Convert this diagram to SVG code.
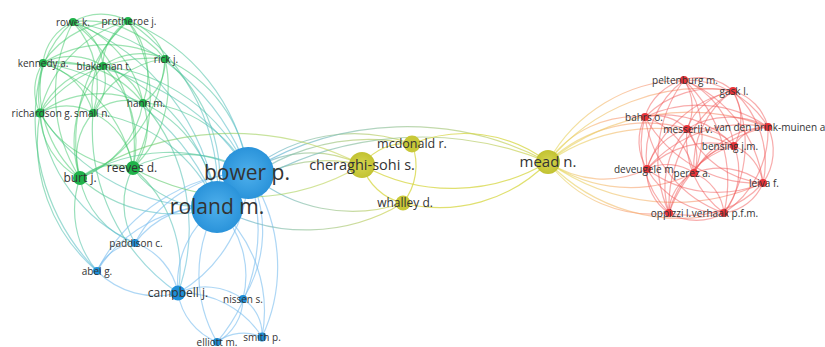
<svg xmlns="http://www.w3.org/2000/svg" width="825" height="347" viewBox="0 0 825 347">
<defs>
<style>
text{font-family:"Open Sans","Liberation Sans",sans-serif;fill:#333;text-anchor:middle}
.s{font-size:10px}.m{font-size:12px}.l{font-size:15px}.xl{font-size:21px}
#edges path{fill:none;stroke-width:1.2}
.g{stroke:#3cc865;stroke-opacity:.5}
.t{stroke:url(#gGB);stroke-opacity:.55}
.b{stroke:#78bdee;stroke-opacity:.6}
.by{stroke:url(#gBY);stroke-opacity:.7}
.gy{stroke:url(#gGY);stroke-opacity:.6}
.y{stroke:#d6d640;stroke-opacity:.75}
.yr{stroke:url(#gYR);stroke-opacity:.6}
.r{stroke:#f25a5a;stroke-opacity:.5}
.ng{fill:#1fb24a}.nb{fill:#1e8fd8}.ny{fill:#c8c838}.nr{fill:#e8343a}
</style>
<linearGradient id="gGB" x1="0" y1="0" x2="1" y2="1"><stop offset="0" stop-color="#3ec86a"/><stop offset="1" stop-color="#5ab8e0"/></linearGradient>
<linearGradient id="gBY" x1="0" y1="0" x2="1" y2="0"><stop offset="0" stop-color="#5fb4e6"/><stop offset="1" stop-color="#d5d64a"/></linearGradient>
<linearGradient id="gGY" x1="0" y1="0" x2="1" y2="0"><stop offset="0" stop-color="#4cc870"/><stop offset="1" stop-color="#d0d450"/></linearGradient>
<linearGradient id="gYR" x1="0" y1="0" x2="1" y2="0"><stop offset="0" stop-color="#e2dc55"/><stop offset=".5" stop-color="#f7b070"/><stop offset="1" stop-color="#f47070"/></linearGradient>
<radialGradient id="bigB" cx=".5" cy=".5" r=".5"><stop offset="0" stop-color="#4fb0ec"/><stop offset="1" stop-color="#2a93da"/></radialGradient>
<radialGradient id="bigY" cx=".5" cy=".5" r=".5"><stop offset="0" stop-color="#d6d650"/><stop offset="1" stop-color="#c2c232"/></radialGradient>
</defs>
<rect width="825" height="347" fill="#fff"/>
<g id="edges">
<path class="g" d="M73 22A55 55 0 0 1 128 21"/>
<path class="g" d="M43 63A51 51 0 0 1 73 22"/>
<path class="g" d="M73 22A53 53 0 0 1 103 66"/>
<path class="g" d="M73 22A99 99 0 0 1 165 59"/>
<path class="g" d="M73 22A107 107 0 0 1 143 103"/>
<path class="g" d="M40 113A97 97 0 0 1 73 22"/>
<path class="g" d="M73 22A93 93 0 0 1 93 113"/>
<path class="g" d="M80 178A156 156 0 0 1 73 22"/>
<path class="g" d="M73 22A158 158 0 0 1 133 168"/>
<path class="g" d="M43 63A95 95 0 0 1 128 21"/>
<path class="g" d="M103 66A52 52 0 0 1 128 21"/>
<path class="g" d="M128 21A54 54 0 0 1 165 59"/>
<path class="g" d="M128 21A83 83 0 0 1 143 103"/>
<path class="g" d="M40 113A125 125 0 0 1 128 21"/>
<path class="g" d="M93 113A98 98 0 0 1 128 21"/>
<path class="g" d="M80 178A164 164 0 0 1 128 21"/>
<path class="g" d="M128 21A147 147 0 0 1 133 168"/>
<path class="g" d="M43 63A60 60 0 0 1 103 66"/>
<path class="g" d="M43 63A122 122 0 0 1 165 59"/>
<path class="g" d="M43 63A108 108 0 0 1 143 103"/>
<path class="g" d="M40 113A50 50 0 0 1 43 63"/>
<path class="g" d="M43 63A71 71 0 0 1 93 113"/>
<path class="g" d="M43 63A119 119 0 0 0 80 178"/>
<path class="g" d="M43 63A140 140 0 0 1 133 168"/>
<path class="g" d="M103 66A62 62 0 0 1 165 59"/>
<path class="g" d="M103 66A55 55 0 0 1 143 103"/>
<path class="g" d="M40 113A82 82 0 0 1 103 66"/>
<path class="g" d="M103 66A48 48 0 0 1 93 113"/>
<path class="g" d="M80 178A114 114 0 0 1 103 66"/>
<path class="g" d="M103 66A106 106 0 0 1 133 168"/>
<path class="g" d="M165 59A50 50 0 0 1 143 103"/>
<path class="g" d="M40 113A138 138 0 0 1 165 59"/>
<path class="g" d="M93 113A89 89 0 0 1 165 59"/>
<path class="g" d="M165 59A142 142 0 0 1 80 178"/>
<path class="g" d="M165 59A114 114 0 0 1 133 168"/>
<path class="g" d="M40 113A103 103 0 0 1 143 103"/>
<path class="g" d="M93 113A51 51 0 0 1 143 103"/>
<path class="g" d="M143 103A98 98 0 0 1 80 178"/>
<path class="g" d="M143 103A66 66 0 0 1 133 168"/>
<path class="g" d="M40 113A53 53 0 0 1 93 113"/>
<path class="g" d="M40 113A75 75 0 0 0 80 178"/>
<path class="g" d="M40 113A108 108 0 0 0 133 168"/>
<path class="g" d="M93 113A66 66 0 0 0 80 178"/>
<path class="g" d="M93 113A70 70 0 0 1 133 168"/>
<path class="g" d="M80 178A54 54 0 0 1 133 168"/>
<path class="t" d="M73 22A230 230 0 0 1 248 172"/>
<path class="t" d="M128 21A193 193 0 0 1 248 172"/>
<path class="t" d="M165 59A140 140 0 0 1 248 172"/>
<path class="t" d="M143 103A126 126 0 0 1 248 172"/>
<path class="t" d="M103 66A180 180 0 0 1 248 172"/>
<path class="t" d="M43 63A232 232 0 0 1 248 172"/>
<path class="t" d="M133 168A115 115 0 0 1 248 172"/>
<path class="t" d="M80 178A168 168 0 0 1 248 172"/>
<path class="t" d="M93 113A156 156 0 0 1 217 207"/>
<path class="t" d="M40 113A200 200 0 0 0 217 207"/>
<path class="t" d="M133 168A93 93 0 0 0 217 207"/>
<path class="t" d="M80 178A140 140 0 0 0 217 207"/>
<path class="t" d="M143 103A128 128 0 0 1 217 207"/>
<path class="t" d="M165 59A157 157 0 0 1 217 207"/>
<path class="t" d="M43 63A226 226 0 0 1 217 207"/>
<path class="t" d="M103 66A181 181 0 0 1 217 207"/>
<path class="t" d="M73 22A234 234 0 0 1 217 207"/>
<path class="t" d="M128 21A206 206 0 0 1 217 207"/>
<path class="t" d="M43 63A215 215 0 0 0 97 271"/>
<path class="t" d="M40 113A168 168 0 0 0 97 271"/>
<path class="t" d="M80 178A95 95 0 0 0 97 271"/>
<path class="t" d="M40 113A161 161 0 0 0 135 243"/>
<path class="t" d="M80 178A85 85 0 0 0 135 243"/>
<path class="t" d="M133 168A75 75 0 0 0 135 243"/>
<path class="t" d="M143 103A193 193 0 0 1 178 293"/>
<path class="t" d="M93 113A199 199 0 0 0 178 293"/>
<path class="t" d="M133 168A133 133 0 0 1 178 293"/>
<path class="b" d="M135 243A133 133 0 0 1 248 172"/>
<path class="b" d="M97 271A180 180 0 0 1 248 172"/>
<path class="b" d="M178 293A140 140 0 0 0 248 172"/>
<path class="b" d="M248 172A127 127 0 0 1 243 299"/>
<path class="b" d="M248 172A173 173 0 0 1 217 342"/>
<path class="b" d="M248 172A166 166 0 0 1 262 337"/>
<path class="b" d="M135 243A90 90 0 0 1 217 207"/>
<path class="b" d="M97 271A136 136 0 0 1 217 207"/>
<path class="b" d="M178 293A94 94 0 0 1 217 207"/>
<path class="b" d="M217 207A96 96 0 0 1 243 299"/>
<path class="b" d="M217 207A135 135 0 0 0 217 342"/>
<path class="b" d="M217 207A138 138 0 0 1 262 337"/>
<path class="b" d="M97 271A47 47 0 0 1 135 243"/>
<path class="b" d="M135 243A66 66 0 0 1 178 293"/>
<path class="b" d="M97 271A84 84 0 0 0 178 293"/>
<path class="b" d="M178 293A65 65 0 0 1 243 299"/>
<path class="b" d="M178 293A63 63 0 0 0 217 342"/>
<path class="b" d="M178 293A95 95 0 0 1 262 337"/>
<path class="b" d="M243 299A50 50 0 0 1 217 342"/>
<path class="b" d="M243 299A42 42 0 0 1 262 337"/>
<path class="b" d="M217 342A45 45 0 0 1 262 337"/>
<path class="by" d="M248 172A114 114 0 0 1 362 165"/>
<path class="by" d="M217 207A151 151 0 0 1 362 165"/>
<path class="by" d="M248 172A166 166 0 0 1 412 144"/>
<path class="by" d="M217 207A205 205 0 0 1 412 144"/>
<path class="by" d="M248 172A158 158 0 0 0 403 203"/>
<path class="by" d="M217 207A186 186 0 0 0 403 203"/>
<path class="by" d="M248 172A300 300 0 0 1 548 162"/>
<path class="by" d="M217 207A334 334 0 0 1 548 162"/>
<path class="gy" d="M80 178A282 282 0 0 1 362 165"/>
<path class="gy" d="M133 168A229 229 0 0 0 362 165"/>
<path class="y" d="M362 165A54 54 0 0 1 412 144"/>
<path class="y" d="M362 165A56 56 0 0 0 403 203"/>
<path class="y" d="M412 144A60 60 0 0 1 403 203"/>
<path class="y" d="M362 165A186 186 0 0 0 548 162"/>
<path class="y" d="M412 144A137 137 0 0 1 548 162"/>
<path class="y" d="M403 203A151 151 0 0 0 548 162"/>
<path class="yr" d="M548 162A107 107 0 0 1 645 117"/>
<path class="yr" d="M548 162A99 99 0 0 0 647 169"/>
<path class="yr" d="M548 162A146 146 0 0 0 694 173"/>
<path class="yr" d="M548 162A131 131 0 0 0 669 213"/>
<path class="yr" d="M548 162A183 183 0 0 0 724 213"/>
<path class="yr" d="M548 162A143 143 0 0 1 687 129"/>
<path class="yr" d="M548 162A187 187 0 0 1 734 146"/>
<path class="yr" d="M548 162A216 216 0 0 0 763 183"/>
<path class="yr" d="M548 162A159 159 0 0 1 684 80"/>
<path class="yr" d="M548 162A198 198 0 0 1 733 91"/>
<path class="yr" d="M548 162A223 223 0 0 1 768 127"/>
<path class="r" d="M684 80A50 50 0 0 1 733 91"/>
<path class="r" d="M645 117A54 54 0 0 1 684 80"/>
<path class="r" d="M684 80A49 49 0 0 1 687 129"/>
<path class="r" d="M684 80A96 96 0 0 1 768 127"/>
<path class="r" d="M684 80A83 83 0 0 1 734 146"/>
<path class="r" d="M647 169A96 96 0 0 1 684 80"/>
<path class="r" d="M684 80A93 93 0 0 1 694 173"/>
<path class="r" d="M684 80A130 130 0 0 1 763 183"/>
<path class="r" d="M669 213A134 134 0 0 1 684 80"/>
<path class="r" d="M684 80A139 139 0 0 1 724 213"/>
<path class="r" d="M645 117A95 95 0 0 1 733 91"/>
<path class="r" d="M687 129A60 60 0 0 1 733 91"/>
<path class="r" d="M733 91A50 50 0 0 1 768 127"/>
<path class="r" d="M733 91A55 55 0 0 1 734 146"/>
<path class="r" d="M647 169A118 118 0 0 1 733 91"/>
<path class="r" d="M694 173A91 91 0 0 1 733 91"/>
<path class="r" d="M733 91A95 95 0 0 1 763 183"/>
<path class="r" d="M669 213A137 137 0 0 1 733 91"/>
<path class="r" d="M724 213A122 122 0 0 0 733 91"/>
<path class="r" d="M645 117A44 44 0 0 1 687 129"/>
<path class="r" d="M645 117A124 124 0 0 1 768 127"/>
<path class="r" d="M645 117A94 94 0 0 1 734 146"/>
<path class="r" d="M647 169A52 52 0 0 1 645 117"/>
<path class="r" d="M645 117A74 74 0 0 1 694 173"/>
<path class="r" d="M645 117A129 129 0 0 0 763 183"/>
<path class="r" d="M669 213A99 99 0 0 1 645 117"/>
<path class="r" d="M645 117A120 120 0 0 0 724 213"/>
<path class="r" d="M687 129A81 81 0 0 1 768 127"/>
<path class="r" d="M687 129A50 50 0 0 1 734 146"/>
<path class="r" d="M647 169A57 57 0 0 1 687 129"/>
<path class="r" d="M687 129A45 45 0 0 1 694 173"/>
<path class="r" d="M687 129A93 93 0 0 0 763 183"/>
<path class="r" d="M669 213A86 86 0 0 1 687 129"/>
<path class="r" d="M687 129A91 91 0 0 0 724 213"/>
<path class="r" d="M734 146A38 38 0 0 1 768 127"/>
<path class="r" d="M647 169A128 128 0 0 1 768 127"/>
<path class="r" d="M694 173A87 87 0 0 1 768 127"/>
<path class="r" d="M768 127A56 56 0 0 1 763 183"/>
<path class="r" d="M669 213A134 134 0 0 1 768 127"/>
<path class="r" d="M768 127A99 99 0 0 1 724 213"/>
<path class="r" d="M647 169A90 90 0 0 1 734 146"/>
<path class="r" d="M694 173A48 48 0 0 1 734 146"/>
<path class="r" d="M734 146A47 47 0 0 1 763 183"/>
<path class="r" d="M669 213A92 92 0 0 1 734 146"/>
<path class="r" d="M734 146A67 67 0 0 1 724 213"/>
<path class="r" d="M647 169A47 47 0 0 1 694 173"/>
<path class="r" d="M647 169A117 117 0 0 0 763 183"/>
<path class="r" d="M647 169A49 49 0 0 0 669 213"/>
<path class="r" d="M647 169A87 87 0 0 0 724 213"/>
<path class="r" d="M694 173A70 70 0 0 1 763 183"/>
<path class="r" d="M694 173A45 45 0 0 0 669 213"/>
<path class="r" d="M694 173A49 49 0 0 1 724 213"/>
<path class="r" d="M669 213A98 98 0 0 0 763 183"/>
<path class="r" d="M763 183A49 49 0 0 1 724 213"/>
<path class="r" d="M669 213A55 55 0 0 0 724 213"/>
</g>
<g id="n-rowe"><circle class="ng" cx="73" cy="22" r="4"/><text class="s" x="73" y="26">rowe k.</text></g>
<g id="n-protheroe"><circle class="ng" cx="128" cy="21" r="4"/><text class="s" x="129" y="25">protheroe j.</text></g>
<g id="n-kennedy"><circle class="ng" cx="43" cy="63" r="4"/><text class="s" x="43" y="67">kennedy a.</text></g>
<g id="n-blakeman"><circle class="ng" cx="103" cy="66" r="4"/><text class="s" x="104" y="70">blakeman t.</text></g>
<g id="n-rick"><circle class="ng" cx="165" cy="59" r="4"/><text class="s" x="166" y="63">rick j.</text></g>
<g id="n-hann"><circle class="ng" cx="143" cy="103" r="4"/><text class="s" x="146" y="107">hann m.</text></g>
<g id="n-richardson"><circle class="ng" cx="40" cy="113" r="4.5"/><text class="s" x="42" y="117">richardson g.</text></g>
<g id="n-small"><circle class="ng" cx="93" cy="113" r="4"/><text class="s" x="92" y="117">small n.</text></g>
<g id="n-burt"><circle class="ng" cx="80" cy="178" r="7"/><text class="m" x="80" y="182">burt j.</text></g>
<g id="n-reeves"><circle class="ng" cx="133" cy="168" r="7"/><text class="m" x="132" y="172">reeves d.</text></g>
<g id="n-paddison"><circle class="nb" cx="135" cy="243" r="4"/><text class="s" x="136" y="247">paddison c.</text></g>
<g id="n-abel"><circle class="nb" cx="97" cy="271" r="4"/><text class="s" x="97" y="275">abel g.</text></g>
<g id="n-campbell"><circle class="nb" cx="178" cy="293" r="7.5"/><text class="m" x="178" y="297">campbell j.</text></g>
<g id="n-nissen"><circle class="nb" cx="243" cy="299" r="4"/><text class="s" x="243" y="303">nissen s.</text></g>
<g id="n-elliott"><circle class="nb" cx="217" cy="342" r="4"/><text class="s" x="217" y="346">elliott m.</text></g>
<g id="n-smith"><circle class="nb" cx="262" cy="337" r="4.5"/><text class="s" x="262" y="341">smith p.</text></g>
<g id="n-bower"><circle fill="url(#bigB)" cx="248" cy="173" r="26"/></g>
<g id="n-roland"><circle fill="url(#bigB)" cx="217" cy="207" r="26"/><text class="xl" x="217" y="214">roland m.</text></g>
<g id="n-bower-label"><text class="xl" x="247" y="180">bower p.</text></g>
<g id="n-cheraghi"><circle fill="url(#bigY)" cx="362" cy="165" r="13"/><text class="l" x="362" y="170" style="font-size:14.5px">cheraghi-sohi s.</text></g>
<g id="n-mcdonald"><circle class="ny" cx="412" cy="144" r="8.5"/><text class="m" x="412" y="148" style="font-size:12.5px">mcdonald r.</text></g>
<g id="n-whalley"><circle class="ny" cx="403" cy="203" r="7.5"/><text class="m" x="405" y="207">whalley d.</text></g>
<g id="n-mead"><circle fill="url(#bigY)" cx="548" cy="162" r="12"/><text class="l" x="548" y="167">mead n.</text></g>
<g id="n-peltenburg"><circle class="nr" cx="684" cy="80" r="4"/><text class="s" x="685" y="84">peltenburg m.</text></g>
<g id="n-gask"><circle class="nr" cx="733" cy="91" r="4"/><text class="s" x="734" y="95">gask l.</text></g>
<g id="n-bahrs"><circle class="nr" cx="645" cy="117" r="4"/><text class="s" x="644" y="121">bahrs o.</text></g>
<g id="n-messerli"><circle class="nr" cx="687" cy="129" r="4"/><text class="s" x="688" y="133">messerli v.</text></g>
<g id="n-vandenbrink"><circle class="nr" cx="768" cy="127" r="4"/><text class="s" x="771" y="131">van den brink-muinen a.</text></g>
<g id="n-bensing"><circle class="nr" cx="734" cy="146" r="4"/><text class="s" x="730" y="150">bensing j.m.</text></g>
<g id="n-deveugele"><circle class="nr" cx="647" cy="169" r="4"/><text class="s" x="645" y="173">deveugele m.</text></g>
<g id="n-perez"><circle class="nr" cx="694" cy="173" r="4"/><text class="s" x="692" y="177">perez a.</text></g>
<g id="n-leiva"><circle class="nr" cx="763" cy="183" r="4"/><text class="s" x="764" y="187">leiva f.</text></g>
<g id="n-oppizzi"><circle class="nr" cx="669" cy="213" r="4"/><text class="s" x="671" y="217">oppizzi l.</text></g>
<g id="n-verhaak"><circle class="nr" cx="724" cy="213" r="4"/><text class="s" x="725" y="217">verhaak p.f.m.</text></g>
</svg>
